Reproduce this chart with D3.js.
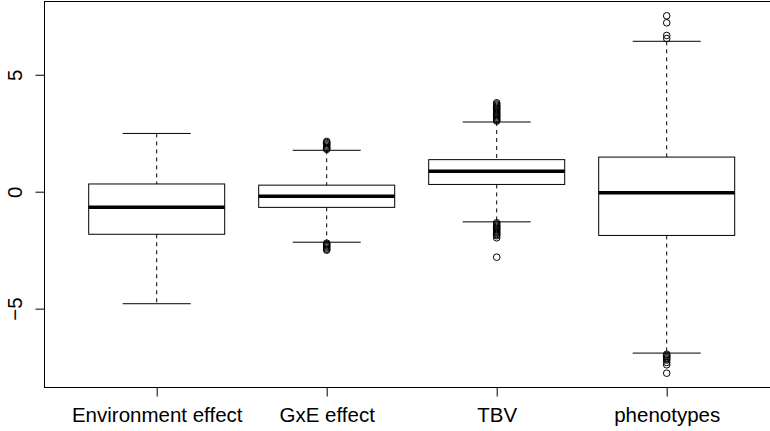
<!DOCTYPE html>
<html>
<head>
<meta charset="utf-8">
<script src="https://cdn.jsdelivr.net/npm/d3@7"></script>
<style>
  body { margin: 0; background: #fff; }
  svg { display: block; }
  .axis text { font-family: "Liberation Sans", Arial, sans-serif; font-size: 20.5px; fill: #000; }
  .axis line { stroke: #000; }
</style>
</head>
<body>
<div id="chart"></div>
<script>
// box statistics
var categories = ["Environment effect", "GxE effect", "TBV", "phenotypes"];
var lowerWhisker = [-4.79, -2.16, -1.29, -6.90];
var lowerHinge = [-1.82, -0.67, 0.31, -1.87];
var medians = [-0.66, -0.19, 0.87, -0.04];
var upperHinge = [0.33, 0.28, 1.37, 1.48];
var upperWhisker = [2.49, 1.77, 2.98, 6.43];
var outliers = [
    [],
    [1.81, 1.85, 1.9, 1.95, 2.0, 2.05, 2.1, 2.15,
     -2.2, -2.24, -2.28, -2.32, -2.36, -2.41, -2.46, -2.5],
    [3.02, 3.06, 3.1, 3.15, 3.2, 3.25, 3.3, 3.35, 3.4, 3.45, 3.5, 3.55, 3.6, 3.65, 3.7, 3.75, 3.8,
     -1.33, -1.38, -1.43, -1.48, -1.53, -1.58, -1.63, -1.68, -1.73, -1.78, -1.83, -1.88, -1.97, -2.8],
    [6.55, 6.68, 7.22, 7.52,
     -6.95, -7.0, -7.05, -7.1, -7.15, -7.2, -7.3, -7.4, -7.76]
];
var yTicks = [-5, 0, 5];

var margin = { top: 1.5, left: 44.5 },
    width = 734.4,
    height = 386;

var svg = d3.select("#chart")
    .append("svg")
    .attr("width", 770)
    .attr("height", 431);

var g = svg.append("g")
    .attr("transform", "translate(" + margin.left + "," + margin.top + ")");

// R style range: data extent widened by 4%
var allVals = lowerWhisker.concat(upperWhisker, d3.merge(outliers));
var lo = d3.min(allVals), hi = d3.max(allVals), pad = (hi - lo) * 0.04;

var xScale = d3.scaleLinear().domain([0.5 - 0.16, categories.length + 0.5 + 0.16]).range([0, width]),
    yScale = d3.scaleLinear().domain([lo - pad, hi + pad]).range([height, 0]);

var data = categories.map(function (c, i) {
    return {
        name: c, pos: i + 1,
        lw: lowerWhisker[i], q1: lowerHinge[i], med: medians[i],
        q3: upperHinge[i], uw: upperWhisker[i], out: outliers[i]
    };
});

var boxHalf = xScale(1.4) - xScale(1);
var stapleHalf = xScale(1.2) - xScale(1);

var box = g.selectAll(".box")
    .data(data)
    .enter().append("g")
    .attr("class", "box");

// whiskers (dashed)
box.append("line")
    .attr("x1", function (d) { return xScale(d.pos); })
    .attr("x2", function (d) { return xScale(d.pos); })
    .attr("y1", function (d) { return yScale(d.uw); })
    .attr("y2", function (d) { return yScale(d.q3); })
    .attr("stroke", "#000").attr("stroke-dasharray", "4,4");
box.append("line")
    .attr("x1", function (d) { return xScale(d.pos); })
    .attr("x2", function (d) { return xScale(d.pos); })
    .attr("y1", function (d) { return yScale(d.q1); })
    .attr("y2", function (d) { return yScale(d.lw); })
    .attr("stroke", "#000").attr("stroke-dasharray", "4,4");

// staples
["uw", "lw"].forEach(function (k) {
    box.append("line")
        .attr("x1", function (d) { return xScale(d.pos) - stapleHalf; })
        .attr("x2", function (d) { return xScale(d.pos) + stapleHalf; })
        .attr("y1", function (d) { return yScale(d[k]); })
        .attr("y2", function (d) { return yScale(d[k]); })
        .attr("stroke", "#000");
});

// box
box.append("rect")
    .attr("x", function (d) { return xScale(d.pos) - boxHalf; })
    .attr("y", function (d) { return yScale(d.q3); })
    .attr("width", boxHalf * 2)
    .attr("height", function (d) { return yScale(d.q1) - yScale(d.q3); })
    .attr("fill", "none").attr("stroke", "#000");

// median
box.append("line")
    .attr("x1", function (d) { return xScale(d.pos) - boxHalf; })
    .attr("x2", function (d) { return xScale(d.pos) + boxHalf; })
    .attr("y1", function (d) { return yScale(d.med); })
    .attr("y2", function (d) { return yScale(d.med); })
    .attr("stroke", "#000").attr("stroke-width", 3.5);

// outliers
box.selectAll("circle")
    .data(function (d) { return d.out.map(function (v) { return { pos: d.pos, v: v }; }); })
    .enter().append("circle")
    .attr("cx", function (d) { return xScale(d.pos); })
    .attr("cy", function (d) { return yScale(d.v); })
    .attr("r", 3.3)
    .attr("fill", "none").attr("stroke", "#000");

// x axis
var xAxis = g.append("g")
    .attr("class", "axis")
    .attr("transform", "translate(0," + height + ")")
    .call(d3.axisBottom(xScale).tickValues(d3.range(1, categories.length + 1))
        .tickFormat(function (d) { return categories[d - 1]; })
        .tickSize(9));
xAxis.select(".domain").remove();
xAxis.selectAll("text").attr("y", 34.5).attr("dy", 0);

// y axis, labels turned like R's las = 0
var yAxis = g.append("g")
    .attr("class", "axis")
    .call(d3.axisLeft(yScale).tickValues(yTicks).tickSize(9)
        .tickFormat(function (d) { return d < 0 ? "\u2212" + Math.abs(d) : d; }));
yAxis.select(".domain").remove();
yAxis.selectAll("text")
    .attr("transform", "rotate(-90)")
    .attr("x", 0).attr("y", -22.5).attr("dy", 0)
    .style("text-anchor", "middle");

// plot frame
g.append("rect")
    .attr("x", 0).attr("y", 0)
    .attr("width", width).attr("height", height)
    .attr("fill", "none").attr("stroke", "#000");
</script>
</body>
</html>
